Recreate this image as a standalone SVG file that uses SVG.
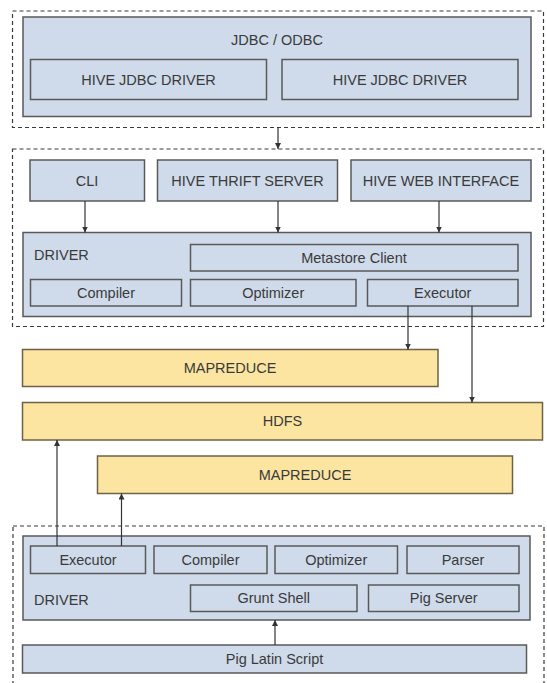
<svg xmlns="http://www.w3.org/2000/svg" width="547" height="683" viewBox="0 0 547 683">
<defs>
<style>
.dash{fill:none;stroke:#3a3a3a;stroke-width:1.2;stroke-dasharray:4 3}
.b{fill:#cfdbea;stroke:#595959;stroke-width:1.5}
.y{fill:#fbe5a1;stroke:#6e6248;stroke-width:1.5}
text{font-family:"Liberation Sans",Arial,sans-serif;font-size:14.5px;fill:#3a3a3a;dominant-baseline:central}
.c{text-anchor:middle}
.conn{stroke:#333;stroke-width:1.2;fill:none}
</style>
<marker id="ah" viewBox="0 0 10 10" refX="10" refY="5" markerWidth="6" markerHeight="6" markerUnits="userSpaceOnUse" orient="auto">
<path d="M0,0 L10,5 L0,10 z" fill="#333"/>
</marker>
</defs>
<rect class="dash" x="12.5" y="11" width="531" height="116.5"/>
<rect class="dash" x="12.5" y="149" width="531" height="177.5"/>
<rect class="dash" x="13" y="526" width="531" height="175"/>
<g id="jdbc"><rect class="b" x="23" y="17" width="508" height="99.5"/><text class="c" x="277" y="40">JDBC / ODBC</text></g>
<g id="jdbc-driver-1"><rect class="b" x="30.5" y="59.5" width="236" height="40"/><text class="c" x="148.5" y="80">HIVE JDBC DRIVER</text></g>
<g id="jdbc-driver-2"><rect class="b" x="282" y="59.5" width="236" height="40"/><text class="c" x="400" y="80">HIVE JDBC DRIVER</text></g>
<g id="cli"><rect class="b" x="30" y="160" width="114.5" height="41"/><text class="c" x="87" y="180.5">CLI</text></g>
<g id="thrift"><rect class="b" x="157.5" y="160" width="180" height="41"/><text class="c" x="247.5" y="180.5">HIVE THRIFT SERVER</text></g>
<g id="web"><rect class="b" x="351" y="160" width="180" height="41"/><text class="c" x="441" y="180.5">HIVE WEB INTERFACE</text></g>
<g id="hive-driver"><rect class="b" x="23" y="232.5" width="508" height="84"/><text x="34" y="255">DRIVER</text></g>
<g id="metastore"><rect class="b" x="190.5" y="244.5" width="327.5" height="26.5"/><text class="c" x="354" y="257.7">Metastore Client</text></g>
<g id="hive-compiler"><rect class="b" x="30.5" y="279.5" width="151" height="26.5"/><text class="c" x="106" y="292.7">Compiler</text></g>
<g id="hive-optimizer"><rect class="b" x="190.5" y="279.5" width="165.5" height="26.5"/><text class="c" x="273.2" y="292.7">Optimizer</text></g>
<g id="hive-executor"><rect class="b" x="367.5" y="279.5" width="150.5" height="26.5"/><text class="c" x="442.7" y="292.7">Executor</text></g>
<g id="mapreduce-1"><rect class="y" x="22.5" y="349.5" width="415.5" height="37"/><text class="c" x="230" y="368">MAPREDUCE</text></g>
<g id="hdfs"><rect class="y" x="22.5" y="402.5" width="520" height="37.5"/><text class="c" x="282.5" y="421.3">HDFS</text></g>
<g id="mapreduce-2"><rect class="y" x="97.5" y="456" width="415" height="37.5"/><text class="c" x="305" y="474.8">MAPREDUCE</text></g>
<g id="pig-driver"><rect class="b" x="23" y="536" width="507" height="84"/><text x="34" y="599.5">DRIVER</text></g>
<g id="pig-executor"><rect class="b" x="30.5" y="546" width="115" height="27.5"/><text class="c" x="88" y="559.8">Executor</text></g>
<g id="pig-compiler"><rect class="b" x="154" y="546" width="113" height="27.5"/><text class="c" x="210.5" y="559.8">Compiler</text></g>
<g id="pig-optimizer"><rect class="b" x="275" y="546" width="122.5" height="27.5"/><text class="c" x="336.2" y="559.8">Optimizer</text></g>
<g id="parser"><rect class="b" x="407" y="546" width="112" height="27.5"/><text class="c" x="463" y="559.8">Parser</text></g>
<g id="grunt"><rect class="b" x="190.5" y="585" width="166.5" height="26.5"/><text class="c" x="273.7" y="598.2">Grunt Shell</text></g>
<g id="pig-server"><rect class="b" x="368.5" y="585" width="150.5" height="26.5"/><text class="c" x="443.7" y="598.2">Pig Server</text></g>
<g id="pig-latin"><rect class="b" x="22.5" y="645" width="504" height="28"/><text class="c" x="274.5" y="659">Pig Latin Script</text></g>
<g id="connectors">
<line class="conn" x1="278" y1="127.5" x2="278" y2="149" marker-end="url(#ah)"/>
<line class="conn" x1="85" y1="201" x2="85" y2="232.5" marker-end="url(#ah)"/>
<line class="conn" x1="278" y1="201" x2="278" y2="232.5" marker-end="url(#ah)"/>
<line class="conn" x1="439" y1="201" x2="439" y2="232.5" marker-end="url(#ah)"/>
<line class="conn" x1="408" y1="306" x2="408" y2="349.5" marker-end="url(#ah)"/>
<line class="conn" x1="472" y1="306" x2="472" y2="402.5" marker-end="url(#ah)"/>
<line class="conn" x1="57" y1="546" x2="57" y2="440" marker-end="url(#ah)"/>
<line class="conn" x1="121.5" y1="546" x2="121.5" y2="493.5" marker-end="url(#ah)"/>
<line class="conn" x1="275" y1="645" x2="275" y2="620" marker-end="url(#ah)"/>
</g>
</svg>
